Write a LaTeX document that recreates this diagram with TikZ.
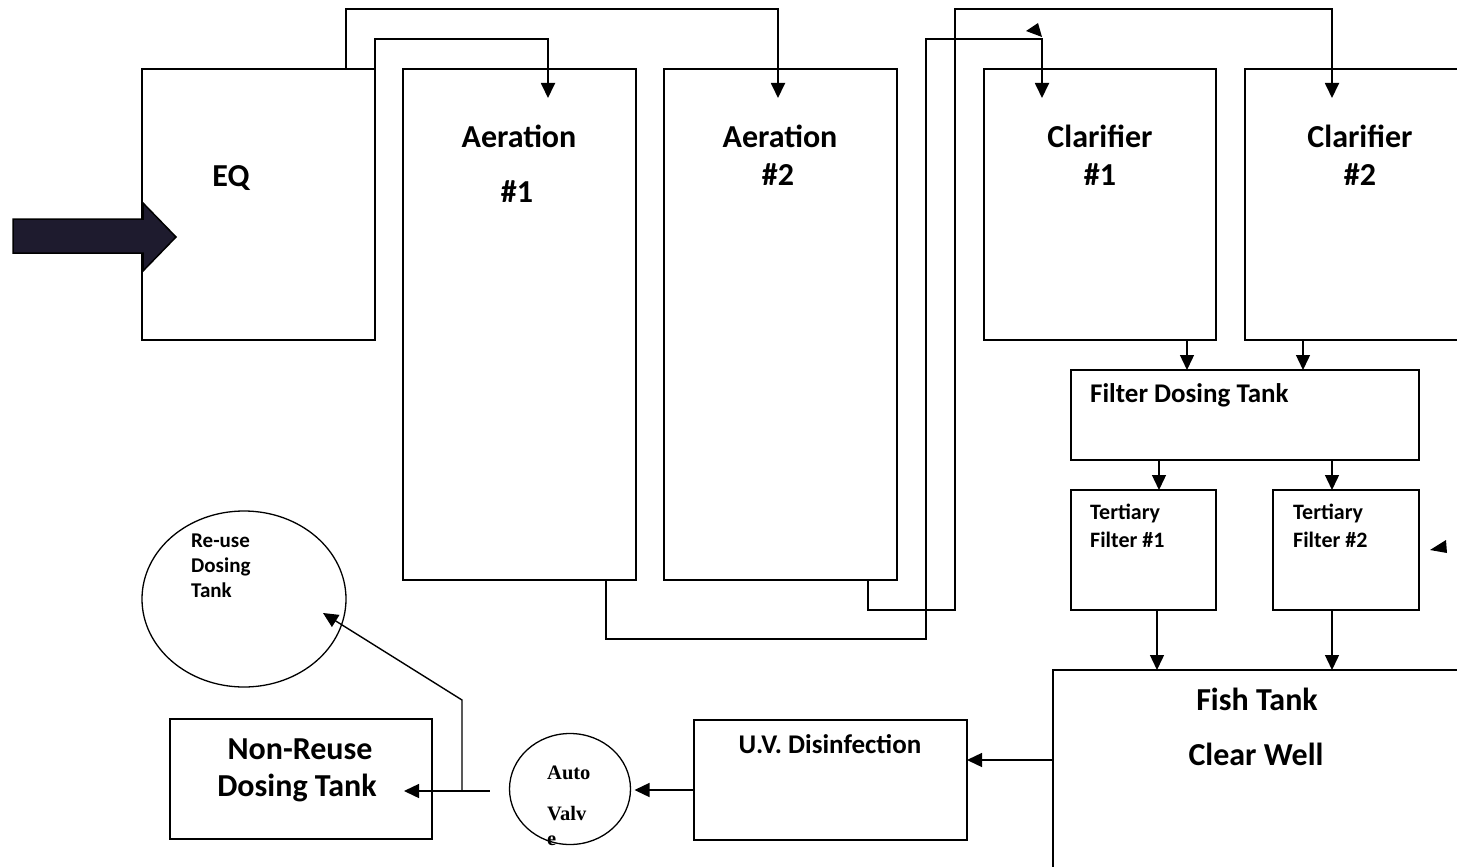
\documentclass[tikz,border=0pt]{standalone}
\usepackage{fontspec}
\setmainfont{Carlito}
\newfontfamily\valvefont{Liberation Serif}
\usetikzlibrary{arrows.meta,shapes.geometric}

\begin{document}
\begin{tikzpicture}[
        x=1pt, y=-1pt,
        tank/.style={draw, line width=1.3pt, inner sep=0pt, outer sep=0pt},
        pond/.style={draw, ellipse, line width=1.3pt, inner sep=0pt, outer sep=0pt},
        big/.style={font=\fontsize{32}{38}\selectfont\bfseries, inner sep=0pt},
        mid/.style={font=\fontsize{27}{32}\selectfont\bfseries, inner sep=0pt},
        small/.style={font=\fontsize{22}{26}\selectfont\bfseries, inner sep=0pt},
        tiny/.style={font=\fontsize{21}{25}\selectfont\bfseries, inner sep=0pt},
        valvetxt/.style={font=\fontsize{20.5}{24}\selectfont\valvefont\bfseries, inner sep=0pt},
        flow/.style={line width=1.8pt, -{Triangle[length=15pt,width=14pt]}},
        feed/.style={line width=1.4pt, -{Triangle[length=15pt,width=14pt]}}
    ]
    \useasboundingbox (0,0) rectangle (1457,867);
    \clip (0,0) rectangle (1457,867);

    % tanks
    \node[tank, minimum width=233pt, minimum height=271pt] (eq) at (258.5,204.5) {};
    \node[tank, minimum width=233pt, minimum height=511pt] (aer1) at (519.5,324.5) {};
    \node[tank, minimum width=233pt, minimum height=511pt] (aer2) at (780.5,324.5) {};
    \node[tank, minimum width=232pt, minimum height=271pt] (cla1) at (1100,204.5) {};
    \node[tank, minimum width=232pt, minimum height=271pt] (cla2) at (1361,204.5) {};
    \node[tank, minimum width=348pt, minimum height=90pt] (fdt) at (1245,415) {};
    \node[tank, minimum width=145pt, minimum height=120pt] (tf1) at (1143.5,550) {};
    \node[tank, minimum width=146pt, minimum height=120pt] (tf2) at (1346,550) {};
    \node[tank, minimum width=409pt, minimum height=240pt] (fish) at (1257.5,790) {};
    \node[tank, minimum width=273pt, minimum height=120pt] (uv) at (830.5,780) {};
    \node[tank, minimum width=262pt, minimum height=120pt] (nr) at (301,779) {};
    \node[pond, minimum width=121pt, minimum height=111pt] (valve) at (570,789) {};
    \node[pond, minimum width=204pt, minimum height=176pt] (reuse) at (244,599) {};

    % labels
    \node[big, anchor=base] (eq-t) at (231,186) {EQ};
    \node[big, anchor=base] (aer1-t) at (519,147) {Aeration};
    \node[big, anchor=base] (aer1-n) at (517,202) {\#1};
    \node[big, anchor=base] (aer2-t) at (780,147) {Aeration};
    \node[big, anchor=base] (aer2-n) at (778,185) {\#2};
    \node[big, anchor=base] (cla1-t) at (1100,147) {Clarifier};
    \node[big, anchor=base] (cla1-n) at (1100,185) {\#1};
    \node[big, anchor=base] (cla2-t) at (1360,147) {Clarifier};
    \node[big, anchor=base] (cla2-n) at (1360,185) {\#2};
    \node[mid, anchor=base west] (fdt-t) at (1090,402) {Filter Dosing Tank};
    \node[small, anchor=base west] (tf1-t) at (1090,519) {Tertiary};
    \node[small, anchor=base west] (tf1-n) at (1090,547) {Filter \#1};
    \node[small, anchor=base west] (tf2-t) at (1293,519) {Tertiary};
    \node[small, anchor=base west] (tf2-n) at (1293,547) {Filter \#2};
    \node[big, anchor=base] (fish-t) at (1257,710) {Fish Tank};
    \node[big, anchor=base] (fish-n) at (1256,765) {Clear Well};
    \node[mid, anchor=base] (uv-t) at (830,753) {U.V. Disinfection};
    \node[big, anchor=base] (nr-t) at (300,759) {Non-Reuse};
    \node[big, anchor=base] (nr-n) at (297,796) {Dosing Tank};
    \node[tiny, anchor=base west] (re-a) at (191,547) {Re-use};
    \node[tiny, anchor=base west] (re-b) at (191,572) {Dosing};
    \node[tiny, anchor=base west] (re-c) at (191,597) {Tank};
    \node[valvetxt, anchor=base west] (va-a) at (547,779) {Auto};
    \node[valvetxt, anchor=base west] (va-b) at (547,820) {Valv};
    \node[valvetxt, anchor=base west] (va-c) at (547,845) {e};

    % inflow
    \draw[line width=1.5pt, fill={rgb,255:red,30;green,27;blue,46}]
        (13,219) -- (143,219) -- (143,203) -- (176,237) -- (143,271) -- (143,253) -- (13,253) -- cycle;

    % piping over the tops
    \draw[flow] ([xshift=204pt]eq.north west) -- (346,9) -| (778,98);
    \draw[flow] (eq.north east) -- (375,39) -| (548,98);
    \draw[flow] ([xshift=203pt]aer1.south west) -- (606,639) -| (926,39) -| (1042,98);
    \draw[flow] ([xshift=204pt]aer2.south west) -- (868,610) -| (955,9) -| (1332,98);
    \fill (1026,31) -- (1038,23) -- (1042,37) -- cycle;

    % down the filter train
    \draw[feed] ([xshift=203pt]cla1.south west) -- ([xshift=116pt]fdt.north west);
    \draw[feed] ([xshift=58pt]cla2.south west) -- ([xshift=232pt]fdt.north west);
    \draw[feed] ([xshift=88pt]fdt.south west) -- ([xshift=88pt]tf1.north west);
    \draw[feed] ([xshift=261pt]fdt.south west) -- ([xshift=59pt]tf2.north west);
    \draw[feed] ([xshift=86pt]tf1.south west) -- ([xshift=104pt]fish.north west);
    \draw[feed] ([xshift=59pt]tf2.south west) -- ([xshift=279pt]fish.north west);
    \fill (1430,550) -- (1446,540) -- (1447,553) -- cycle;

    % effluent
    \draw[feed] ([yshift=30pt]fish.west) -- ([yshift=20pt]uv.east);
    \draw[feed] ([yshift=-10pt]uv.west) -- ([xshift=4pt,yshift=-1pt]valve.east);
    \coordinate (tee) at (462,791);
    \draw[feed] ([xshift=-20pt,yshift=-2pt]valve.west) -- ([xshift=-28pt,yshift=-12pt]nr.east);
    \draw[feed] (tee) -- (462,700) -- ([xshift=79pt,yshift=-14pt]reuse.center);
\end{tikzpicture}
\end{document}
